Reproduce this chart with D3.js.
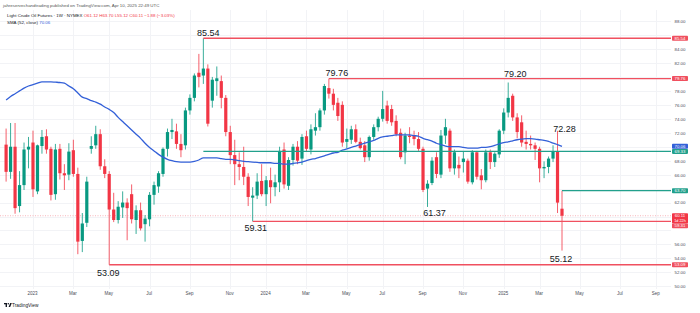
<!DOCTYPE html>
<html><head><meta charset="utf-8">
<script src="https://cdn.jsdelivr.net/npm/d3@7"></script>
<style>
body{margin:0;background:#fff;}
svg{display:block;font-family:"Liberation Sans",Arial,sans-serif;}
</style>
</head><body>
<svg id="c" width="700" height="313"></svg>
<script>
// ---------------- DATA ----------------
const firstWeek = "2022-11-21"; // weekly bars, one per week
const opens = [70.3,66.4,70.0,61.5,64.5,69.6,70.6,63.6,70.1,71.5,
 69.7,63.2,69.7,66.2,66.0,69.5,66.1,56.5,59.1,69.7,
 70.2,71.8,67.2,66.1,61.0,59.5,61.3,62.0,63.2,59.5,
 60.9,58.9,59.6,63.1,64.3,66.1,69.7,72.1,72.2,70.4,
 70.2,75.2,77.0,80.6,80.2,81.2,76.6,79.4,79.4,77.0,
 72.1,68.8,67.5,67.1,65.7,62.7,63.0,65.1,63.2,65.2,
 64.2,64.9,69.6,64.4,68.1,70.0,68.3,71.5,69.6,72.3,
 72.8,75.2,78.4,77.6,76.3,76.0,70.7,71.0,72.5,70.7,
 70.2,68.5,71.4,72.8,74.0,75.9,75.4,73.7,72.0,69.2,
 71.6,71.6,71.1,69.7,64.0,64.8,68.5,66.0,71.6,72.3,
 66.9,67.4,67.8,68.0,64.9,69.2,65.9,65.2,69.2,67.8,
 68.9,72.3,74.9,77.3,74.2,73.5,70.7,70.4,70.2,69.7,
 66.9,67.1,68.3,69.3,61.12];
const highs = [72.6,73.4,73.4,66.5,70.6,71.4,72.3,70.3,72.4,72.5,
 70.0,70.4,70.4,67.5,70.5,71.0,67.0,60.5,65.7,71.5,
 73.0,72.5,68.2,66.5,63.4,62.2,63.6,62.6,64.6,61.6,
 62.0,60.2,63.5,65.0,66.5,69.9,72.6,74.0,73.3,71.8,
 75.6,77.5,80.5,83.3,85.54,81.8,80.0,81.5,80.2,77.4,
 73.0,71.0,69.2,70.0,66.2,64.2,66.2,67.5,65.8,67.0,
 66.0,70.0,70.6,68.5,70.4,70.8,71.8,72.3,73.2,74.8,
 75.5,79.0,79.76,78.3,77.0,76.5,72.6,73.0,73.2,71.3,
 70.8,71.6,73.2,74.3,78.0,76.6,76.0,74.5,72.6,72.0,
 72.8,72.3,72.1,70.0,65.2,68.5,69.2,72.4,74.0,72.6,
 69.6,68.6,69.3,68.3,69.5,69.4,66.8,69.6,69.6,69.2,
 72.5,75.5,79.20,77.6,74.8,74.5,72.3,71.6,70.6,70.0,
 67.9,68.6,70.2,72.28,63.70];
const lows = [65.0,65.4,60.4,60.6,63.8,66.9,62.8,63.2,69.0,69.0,
 62.3,62.4,65.3,63.8,65.2,65.7,54.6,54.9,58.5,69.0,
 69.7,66.7,65.5,53.09,59.2,59.0,59.8,56.6,59.0,57.5,
 58.0,56.4,58.6,61.7,63.4,65.7,68.6,71.1,69.7,68.5,
 69.6,74.6,76.5,78.5,79.0,72.9,75.6,77.3,75.5,71.5,
 67.5,64.5,65.2,64.5,61.5,59.31,62.5,62.9,61.5,61.9,
 62.9,63.5,64.0,63.8,67.3,67.5,67.4,69.3,68.9,71.6,
 72.3,74.6,76.9,75.2,73.7,70.0,69.8,70.4,70.5,69.6,
 67.8,68.0,71.0,72.2,73.6,73.3,73.0,71.5,68.2,67.5,
 70.5,70.2,69.4,63.5,61.37,64.5,65.5,65.5,70.4,66.4,
 66.0,65.5,66.3,64.7,64.6,65.3,63.9,64.9,66.8,67.1,
 68.4,71.8,74.2,73.7,71.2,70.0,69.6,69.6,68.1,64.9,
 65.5,66.2,67.8,60.5,55.12];
const closes = [66.4,70.0,61.2,64.5,69.6,70.0,63.9,70.2,71.4,69.6,
 63.1,69.6,66.2,65.9,69.3,66.1,56.4,59.0,65.0,70.1,
 71.8,67.2,66.1,61.0,59.5,61.4,62.0,61.2,59.6,60.9,
 58.3,59.7,63.1,64.5,66.2,69.7,72.1,72.4,70.4,69.5,
 75.2,77.0,80.2,80.0,81.2,73.3,79.6,79.8,77.0,72.1,
 68.8,67.5,67.1,65.7,62.8,63.0,65.0,63.2,65.2,64.2,
 64.9,69.4,64.6,68.1,70.0,68.0,71.4,69.7,72.5,72.8,
 75.2,78.7,77.6,76.0,74.4,70.6,71.1,72.5,70.7,69.8,
 68.5,71.4,72.8,74.0,75.4,73.7,73.5,71.8,68.5,71.6,
 71.4,71.1,69.7,63.8,64.7,68.0,66.1,71.6,72.8,66.9,
 69.2,66.9,68.3,65.0,69.2,65.7,65.2,69.2,67.8,69.0,
 72.3,74.9,77.0,74.2,72.1,70.6,70.4,70.2,69.7,66.9,
 67.1,68.3,69.3,61.99,60.11];
const sma52 = [76.7,77.2,77.6,78.0,78.4,78.7,78.9,79.1,79.3,79.3,
 79.3,79.25,79.2,79.1,78.7,78.3,77.7,77.1,76.9,76.6,
 76.4,76.1,75.7,75.35,74.9,74.2,73.6,73.0,72.4,71.8,
 71.2,70.5,69.9,69.4,68.9,68.5,68.2,68.0,67.85,67.8,
 67.8,67.8,67.9,68.1,68.4,68.4,68.4,68.4,68.3,68.2,
 68.2,68.1,68.0,67.9,67.85,67.8,67.75,67.7,67.7,67.7,
 67.6,67.6,67.5,67.5,67.6,67.7,67.8,68.0,68.2,68.3,
 68.5,68.7,68.9,69.1,69.2,69.5,69.7,69.9,70.1,70.3,
 70.5,70.7,70.9,71.2,71.4,71.5,71.6,71.7,71.7,71.7,
 71.7,71.6,71.5,71.2,71.0,70.8,70.5,70.3,70.1,70.0,
 70.0,70.0,69.9,69.8,69.8,69.8,69.9,69.9,70.0,70.2,
 70.4,70.6,70.7,70.85,71.0,71.1,71.15,71.15,71.1,71.0,
 70.9,70.75,70.5,70.3,70.06];

const priceTicks = [50,52,54,56,58,60,62,64,66,68,70,72,74,76,78,80,82,84,86,88];
const timeTickDates = ["2023-01-02","2023-03-06","2023-05-01","2023-07-03","2023-09-04","2023-11-06",
 "2024-01-01","2024-03-04","2024-05-06","2024-07-01","2024-09-02","2024-11-04",
 "2025-01-06","2025-03-03","2025-05-05","2025-07-07","2025-09-01"];
const timeTickLabels = ["2023","Mar","May","Jul","Sep","Nov","2024","Mar","May","Jul","Sep","Nov","2025","Mar","May","Jul","Sep"];

// horizontal rays drawn on the chart
const levelPrices = [85.54, 79.76, 59.31, 53.09, 69.33, 63.70];
const levelStart  = ["2023-09-25","2024-04-08","2023-12-11","2023-05-01","2023-09-25","2025-04-07"];
const levelKind   = ["resistance","resistance","resistance","resistance","support","support"];

// swing high / low text notes
const noteValues = [85.54, 79.76, 79.20, 72.28, 61.37, 59.31, 53.09, 55.12];
const noteDates  = ["2023-09-25","2024-04-08","2025-01-13","2025-03-31","2024-09-09","2023-12-11","2023-05-01","2025-04-07"];

const lastPrice = 60.11, lastSma = 70.06;
const symbolTitle = "Light Crude Oil Futures · 1W · NYMEX";
const ohlcText = "O61.12 H63.70 L55.12 C60.11 −1.88 (−3.03%)";
const smaTitle = "SMA (52, close)";
const publishLine = "jahreservechandtrading published on TradingView.com, Apr 10, 2025 22:49 UTC";
const countdown = "1d 22h";

// ---------------- STYLE / LAYOUT ----------------
const C = {up:"#089981", down:"#f23645", sma:"#3360d8", red:"#f0505f", teal:"#22a08c",
  grid:"#f2f3f6", text:"#131722", axis:"#4a4d57"};
const paneRight = 671, paneTop = 10, paneBottom = 289;
const noteDx = [5,8,7,7,7,3,-1,-1];
const noteDy = [-2,-2.6,-6,0.7,9.1,9.7,11.7,11.4];

const parse = d3.utcParse("%Y-%m-%d");
const svg = d3.select("#c");
const x = d3.scaleUtc().domain([parse("2022-11-21"), parse("2025-04-07")]).range([6.1, 562]);
const y = d3.scaleLinear().domain([50, 88]).range([286.3, 21.1]);
const start = parse(firstWeek);
const bars = opens.map((o,i)=>({date:d3.utcDay.offset(start,7*i), o, h:highs[i], l:lows[i], c:closes[i], sma:sma52[i]}));

// clip
svg.append("defs").append("clipPath").attr("id","pane").append("rect")
  .attr("x",0).attr("y",paneTop).attr("width",paneRight).attr("height",paneBottom-paneTop);

// grid
const grid = svg.append("g");
grid.selectAll("line.h").data(priceTicks).join("line")
  .attr("x1",0).attr("x2",paneRight).attr("y1",d=>Math.round(y(d))+0.5).attr("y2",d=>Math.round(y(d))+0.5)
  .attr("stroke",C.grid).attr("stroke-width",1);
grid.selectAll("line.v").data(timeTickDates).join("line")
  .attr("x1",d=>Math.round(x(parse(d)))+0.5).attr("x2",d=>Math.round(x(parse(d)))+0.5)
  .attr("y1",paneTop).attr("y2",paneBottom).attr("stroke",C.grid).attr("stroke-width",1);

const pane = svg.append("g").attr("clip-path","url(#pane)");

// last price dotted line
pane.append("line").attr("x1",0).attr("x2",paneRight).attr("y1",y(lastPrice)).attr("y2",y(lastPrice))
  .attr("stroke","#f5a3aa").attr("stroke-width",0.8).attr("stroke-dasharray","1,1.5");

// candles
const cg = pane.append("g");
cg.selectAll("line").data(bars).join("line")
  .attr("x1",d=>x(d.date)).attr("x2",d=>x(d.date))
  .attr("y1",d=>y(d.h)).attr("y2",d=>y(d.l))
  .attr("stroke",d=>d.c>=d.o?C.up:C.down).attr("stroke-width",0.8);
cg.selectAll("rect").data(bars).join("rect")
  .attr("x",d=>x(d.date)-1.6).attr("width",3.2)
  .attr("y",d=>y(Math.max(d.o,d.c)))
  .attr("height",d=>Math.max(0.9, Math.abs(y(d.o)-y(d.c))))
  .attr("fill",d=>d.c>=d.o?C.up:C.down);

// SMA
pane.append("path").datum(bars)
  .attr("d", d3.line().x(d=>x(d.date)).y(d=>y(d.sma)).curve(d3.curveMonotoneX))
  .attr("fill","none").attr("stroke",C.sma).attr("stroke-width",1.3);

// levels
const lv = levelPrices.map((v,i)=>({v, s:parse(levelStart[i]), k:levelKind[i]}));
pane.selectAll("line.lv").data(lv).join("line")
  .attr("x1",d=>x(d.s)).attr("x2",paneRight+2)
  .attr("y1",d=>y(d.v)).attr("y2",d=>y(d.v))
  .attr("stroke",d=>d.k==="resistance"?C.red:C.teal).attr("stroke-width",1.3);

// notes
svg.append("g").selectAll("text").data(noteValues).join("text")
  .attr("x",(d,i)=>x(parse(noteDates[i]))+noteDx[i])
  .attr("y",(d,i)=>y(d)+noteDy[i])
  .attr("text-anchor","middle").attr("font-size",9).attr("fill",C.text)
  .text(d=>d.toFixed(2));

// price axis colored labels
const tags = [];
lv.forEach(d=>tags.push({v:d.v, color:d.k==="resistance"?C.red:C.teal, lines:[d.v.toFixed(2)]}));
tags.push({v:lastSma, color:C.sma, lines:[lastSma.toFixed(2)]});
tags.push({v:lastPrice, color:C.down, lines:[lastPrice.toFixed(2), countdown]});
tags.forEach(t=>{t.h = 5*t.lines.length; t.top = y(t.v)-2.5;});
tags.sort((a,b)=>a.top-b.top);
for(let i=1;i<tags.length;i++){ const p=tags[i-1]; if(tags[i].top < p.top+p.h) tags[i].top = p.top+p.h; }

// price axis tick labels (hidden where a tag covers them)
const axisG = svg.append("g").attr("transform",`translate(680,0)`)
  .call(d3.axisRight(y).tickValues(priceTicks).tickSize(0).tickPadding(0).tickFormat(d3.format(".2f")));
axisG.select(".domain").remove();
axisG.selectAll("text").attr("text-anchor","middle").attr("font-size",4.4).attr("fill",C.axis)
  .attr("font-family","Liberation Sans, Arial, sans-serif")
  .style("display",d=>tags.some(t=>y(d)>t.top-2.5 && y(d)<t.top+t.h+2.5)?"none":null);

const tg = svg.append("g").selectAll("g").data(tags).join("g");
tg.append("rect").attr("x",672).attr("y",d=>d.top).attr("width",16).attr("height",d=>d.h)
  .attr("rx",0.8).attr("fill",d=>d.color);
tg.each(function(d){
  d.lines.forEach((s,j)=>d3.select(this).append("text").attr("x",680).attr("y",d.top+3.9+5*j)
    .attr("text-anchor","middle").attr("font-size",j?3.8:4.3).attr("fill","#fff").text(s));
});

// time axis
const tAxis = svg.append("g").attr("transform","translate(-1,292)")
  .call(d3.axisBottom(x).tickValues(timeTickDates.map(parse)).tickSize(0).tickPadding(0)
    .tickFormat((d,i)=>timeTickLabels[i]));
tAxis.select(".domain").remove();
tAxis.selectAll("text").attr("font-size",4.5).attr("fill",C.axis).attr("font-family","Liberation Sans, Arial, sans-serif");

// header
svg.append("text").attr("x",3).attr("y",6.5).attr("font-size",4.4).attr("fill","#555").text(publishLine);
const h1 = svg.append("text").attr("x",7).attr("y",16.5).attr("font-size",4.4);
h1.append("tspan").attr("fill",C.text).text(symbolTitle+"  ");
h1.append("tspan").attr("fill",C.down).text(ohlcText);
const h2 = svg.append("text").attr("x",7).attr("y",23.5).attr("font-size",4.4);
h2.append("tspan").attr("fill",C.text).text(smaTitle+"  ");
h2.append("tspan").attr("fill",C.sma).text(lastSma.toFixed(2));

// TradingView logo
const logo = svg.append("g").attr("transform","translate(4,303)");
logo.append("rect").attr("x",0).attr("y",0).attr("width",3).attr("height",1.3).attr("fill",C.text);
logo.append("rect").attr("x",1.6).attr("y",0).attr("width",1.4).attr("height",4).attr("fill",C.text);
logo.append("circle").attr("cx",4.3).attr("cy",0.8).attr("r",0.8).attr("fill",C.text);
logo.append("path").attr("d","M4.6,4 L6.2,0 L7.8,0 L6.2,4 Z").attr("fill",C.text);
svg.append("text").attr("x",12).attr("y",306.5).attr("font-size",4.8).attr("fill",C.text).text("TradingView");
</script>
</body></html>
